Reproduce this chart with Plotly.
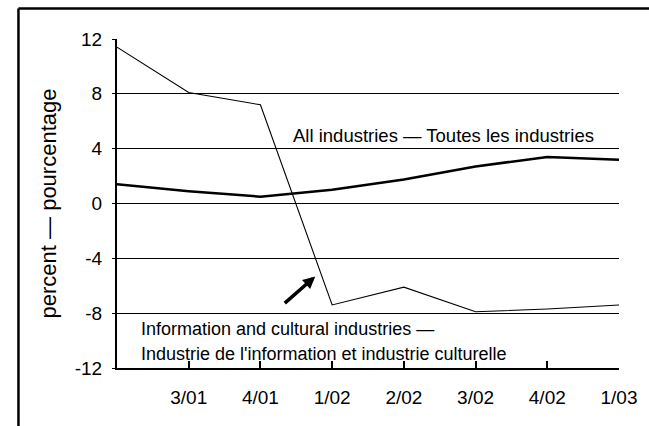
import plotly.graph_objects as go

quarters = ["2/01", "3/01", "4/01", "1/02", "2/02", "3/02", "4/02", "1/03"]
tick_labels = ["", "3/01", "4/01", "1/02", "2/02", "3/02", "4/02", "1/03"]
info_cultural = [11.4, 8.1, 7.2, -7.4, -6.1, -7.9, -7.7, -7.4]
all_industries = [1.4, 0.9, 0.5, 1.0, 1.75, 2.7, 3.4, 3.2]
y_ticks = [-12, -8, -4, 0, 4, 8, 12]
y_tick_labels = ["-12", "-8", "-4", "0", "4", "8", "12"]

FONT = "Liberation Sans, Arial, sans-serif"
xs = list(range(len(quarters)))

fig = go.Figure()
fig.add_trace(go.Scatter(x=xs, y=info_cultural, mode="lines",
                         line=dict(color="black", width=1.1), hoverinfo="skip"))
fig.add_trace(go.Scatter(x=xs, y=all_industries, mode="lines",
                         line=dict(color="black", width=2.5), hoverinfo="skip"))

border = dict(color="black", width=2.5)
clear = "rgba(0,0,0,0)"
fig.update_layout(
    width=649, height=426,
    margin=dict(l=117, r=25, t=39, b=58),
    paper_bgcolor="white", plot_bgcolor="white",
    showlegend=False,
    modebar=dict(bgcolor=clear, color=clear, activecolor=clear),
    font=dict(family=FONT, color="black", size=19),
    xaxis=dict(range=[0, len(quarters) - 1], tickvals=xs, ticktext=tick_labels,
               showgrid=False, zeroline=False, showline=True, linecolor="black",
               linewidth=2, ticks="inside", ticklen=7, tickcolor="black",
               tickwidth=1.5, tickfont=dict(size=19), ticklabelstandoff=11),
    yaxis=dict(range=[-12, 12], tickvals=y_ticks, ticktext=y_tick_labels,
               showgrid=True, gridcolor="black", gridwidth=1, zeroline=False,
               showline=True, linecolor="black", linewidth=2, ticks="outside",
               ticklen=3, tickcolor="black", tickfont=dict(size=19),
               ticklabelstandoff=6,
               title=dict(text="percent — pourcentage", font=dict(size=22),
                          standoff=12)),
    shapes=[
        dict(type="line", xref="paper", yref="paper",
             x0=-0.1963, x1=1.3, y0=1.0927, y1=1.0927, line=border),
        dict(type="line", xref="paper", yref="paper",
             x0=-0.1963, x1=-0.1963, y0=-0.4, y1=1.0927, line=border),
    ],
    annotations=[
        dict(x=2.42, y=4.97, xref="x", yref="y", text="All industries — Toutes les industries",
             showarrow=False, xanchor="left", yanchor="middle", font=dict(size=18.5)),
        dict(x=0.31, y=-9.16, xref="x", yref="y", text="Information and cultural industries —",
             showarrow=False, xanchor="left", yanchor="middle", font=dict(size=18)),
        dict(x=0.31, y=-10.98, xref="x", yref="y",
             text="Industrie de l'information et industrie culturelle",
             showarrow=False, xanchor="left", yanchor="middle", font=dict(size=18)),
        dict(x=2.765, y=-5.32, xref="x", yref="y", text="", showarrow=True,
             ax=-32, ay=28, arrowhead=2, arrowsize=0.7, arrowwidth=3.5,
             arrowcolor="black"),
    ],
)

fig.write_html(
    "out.html", config={"displaylogo": False},
    post_script=("document.body.style.margin='0';"
                 "document.body.style.overflow='hidden';"))
